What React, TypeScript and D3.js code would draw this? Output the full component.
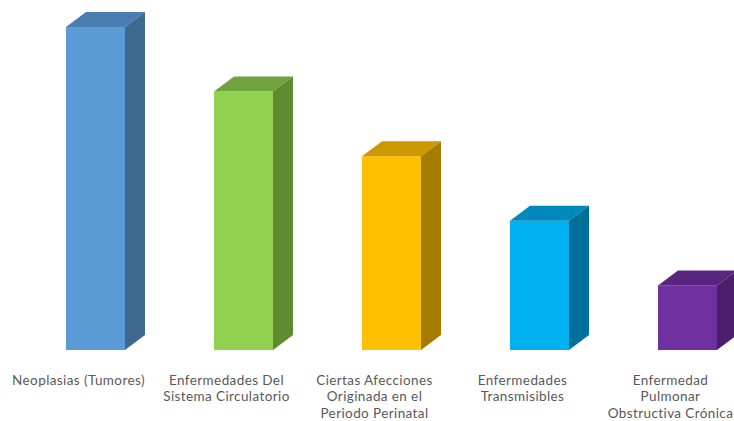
import React from "react";
import * as d3 from "d3";

const categories = [
  ["Neoplasias (Tumores)"],
  ["Enfermedades Del", "Sistema Circulatorio"],
  ["Ciertas Afecciones", "Originada en el", "Periodo Perinatal"],
  ["Enfermedades", "Transmisibles"],
  ["Enfermedad", "Pulmonar", "Obstructiva Crónica"],
];
const values = [5, 4, 3, 2, 1];
const frontColors = ["#5B9BD5", "#92D050", "#FFC000", "#00B0F0", "#7030A0"];
const topColors = ["#4A7EB3", "#70A23D", "#CC9900", "#0088BB", "#59257F"];
const sideColors = ["#3D6890", "#5E8A32", "#A67C00", "#00709A", "#4A1E6A"];

const W = 734;
const H = 421;

export default function App() {
  const keys = categories.map((c) => c.join(" "));
  const x = d3.scaleBand<string>().domain(keys).range([21.5, 761.5]).paddingInner(0).paddingOuter(0);
  const y = d3.scaleLinear().domain([0, 5]).range([350, 27]);
  const bw = 59;
  const dx = 20;
  const dy = -15;
  return (
    <svg width={W} height={H} style={{ position: "absolute", left: 0, top: 0, background: "#fff" }}>
      {keys.map((k, i) => {
        const cx = (x(k) as number) + x.bandwidth() / 2;
        const x0 = cx - bw / 2;
        const x1 = x0 + bw;
        const yt = y(values[i]);
        const yb = y(0);
        return (
          <g key={k}>
            <rect x={x0} y={yt} width={bw} height={yb - yt} fill={frontColors[i]} />
            <path
              d={`M${x0},${yt}L${x0 + dx},${yt + dy}L${x1 + dx},${yt + dy}L${x1},${yt}Z`}
              fill={topColors[i]}
            />
            <path
              d={`M${x1},${yt}L${x1 + dx},${yt + dy}L${x1 + dx},${yb + dy}L${x1},${yb}Z`}
              fill={sideColors[i]}
            />
            <text
              x={cx - 17}
              y={384.5}
              textAnchor="middle"
              fontFamily="Lato, 'Open Sans', sans-serif"
              fontSize={13.5}
              letterSpacing={0.4}
              fill="#595959"
            >
              {categories[i].map((line, j) => (
                <tspan key={j} x={cx - 17} dy={j === 0 ? 0 : 16.5}>
                  {line}
                </tspan>
              ))}
            </text>
          </g>
        );
      })}
    </svg>
  );
}
